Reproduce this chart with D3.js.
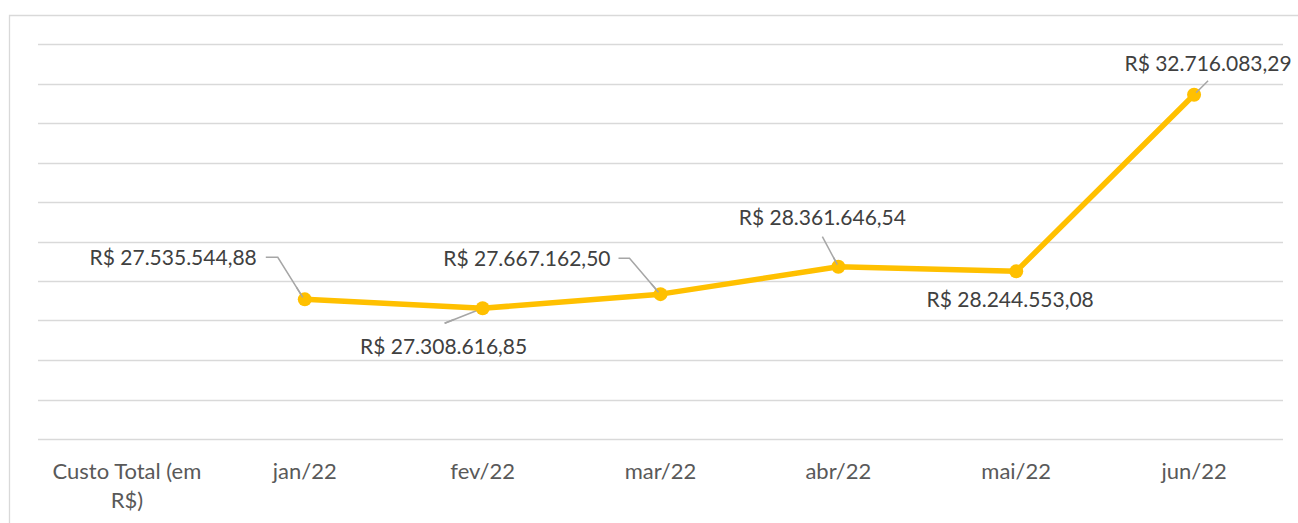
<!DOCTYPE html>
<html>
<head>
<meta charset="utf-8">
<script src="https://cdn.jsdelivr.net/npm/d3@7.9.0/dist/d3.min.js"></script>
<style>
  html, body { margin: 0; padding: 0; background: #fff; }
  svg { display: block; font-family: Lato, "Open Sans", sans-serif; }
</style>
</head>
<body>
<svg id="chart" width="1298" height="523"></svg>
<script>
// === Data ===
const categories = ['Custo Total (em R$)', 'jan/22', 'fev/22', 'mar/22', 'abr/22', 'mai/22', 'jun/22'];
const months = ['jan/22', 'fev/22', 'mar/22', 'abr/22', 'mai/22', 'jun/22'];
const custo = [27535544.88, 27308616.85, 27667162.50, 28361646.54, 28244553.08, 32716083.29];
const yTicks = d3.range(24000000, 34000001, 1000000);

// label placement relative to each point: [dx, dy, anchor, leader points]
const labelPlace = [
  { dx: -48, dy: -42, anchor: 'end',    leader: [[-39, -42], [-27, -42], [-2, -2]] },
  { dx: -39, dy: 38,  anchor: 'middle', leader: [[0, 0], [-38, 15]] },
  { dx: -50, dy: -35, anchor: 'end',    leader: [[-42, -36], [-31, -36], [-2, -2]] },
  { dx: -16, dy: -49, anchor: 'middle', leader: [[-16, -30], [-1, -2]] },
  { dx: -6,  dy: 28,  anchor: 'middle', leader: null },
  { dx: 14,  dy: -31, anchor: 'middle', leader: [[14, -14], [2, -2]] }
];

const fmt = v => 'R$ ' + d3.format(',.2f')(v).replace(/,/g, '#').replace('.', ',').replace(/#/g, '.');

const svg = d3.select('#chart');
const plotL = 38, plotR = 1283, plotT = 44, plotB = 439;

const x = d3.scaleBand().domain(categories).range([plotL, plotR]);
const y = d3.scaleLinear().domain([24000000, 34000000]).range([plotB, plotT]);

// chart border
svg.append('path')
  .attr('d', `M9.5,530 V15.5 H1305`)
  .attr('fill', 'none')
  .attr('stroke', '#d9d9d9')
  .attr('stroke-width', 1.3);

// gridlines
svg.append('g')
  .selectAll('line')
  .data(yTicks)
  .join('line')
  .attr('x1', plotL).attr('x2', plotR)
  .attr('y1', d => Math.round(y(d)) + 0.5)
  .attr('y2', d => Math.round(y(d)) + 0.5)
  .attr('stroke', '#d9d9d9')
  .attr('stroke-width', 1.3);

// x axis labels
const xa = svg.append('g')
  .attr('font-size', 22)
  .attr('fill', '#595959');
xa.append('text')
  .attr('x', x(categories[0]) + x.bandwidth() / 2)
  .attr('y', 479)
  .attr('text-anchor', 'middle')
  .text('Custo Total (em');
xa.append('text')
  .attr('x', x(categories[0]) + x.bandwidth() / 2)
  .attr('y', 508)
  .attr('text-anchor', 'middle')
  .text('R$)');
xa.selectAll('text.m')
  .data(months)
  .join('text')
  .attr('class', 'm')
  .attr('x', d => x(d) + x.bandwidth() / 2)
  .attr('y', 479)
  .attr('text-anchor', 'middle')
  .text(d => d);

const pts = months.map((m, i) => ({
  m, v: custo[i],
  px: x(m) + x.bandwidth() / 2,
  py: y(custo[i])
}));

// leader lines
svg.append('g')
  .selectAll('polyline')
  .data(pts.filter((d, i) => labelPlace[i].leader))
  .join('polyline')
  .attr('points', d => {
    const lp = labelPlace[months.indexOf(d.m)];
    return lp.leader.map(([a, b]) => `${d.px + a},${d.py + b}`).join(' ');
  })
  .attr('fill', 'none')
  .attr('stroke', '#a6a6a6')
  .attr('stroke-width', 1.5);

// line
svg.append('path')
  .datum(pts)
  .attr('d', d3.line().x(d => d.px).y(d => d.py))
  .attr('fill', 'none')
  .attr('stroke', '#ffc000')
  .attr('stroke-width', 5.5)
  .attr('stroke-linejoin', 'round');

// markers
svg.append('g')
  .selectAll('circle')
  .data(pts)
  .join('circle')
  .attr('cx', d => d.px)
  .attr('cy', d => d.py)
  .attr('r', 7)
  .attr('fill', '#ffc000');

// leader tips drawn over markers
svg.append('g')
  .selectAll('line')
  .data(pts.filter((d, i) => labelPlace[i].leader))
  .join('line')
  .each(function (d) {
    const lp = labelPlace[months.indexOf(d.m)].leader;
    const a = lp[lp.length - 1], b = lp[lp.length - 2];
    const t = 0.25;
    d3.select(this)
      .attr('x1', d.px + a[0]).attr('y1', d.py + a[1])
      .attr('x2', d.px + a[0] + (b[0] - a[0]) * t).attr('y2', d.py + a[1] + (b[1] - a[1]) * t);
  })
  .attr('stroke', '#a6a6a6')
  .attr('stroke-width', 1.5);

// data labels
svg.append('g')
  .attr('font-size', 21)
  .attr('fill', '#404040')
  .selectAll('text')
  .data(pts)
  .join('text')
  .attr('x', (d, i) => d.px + labelPlace[i].dx)
  .attr('y', (d, i) => d.py + labelPlace[i].dy)
  .attr('dy', '0.35em')
  .attr('text-anchor', (d, i) => labelPlace[i].anchor)
  .text(d => fmt(d.v));
</script>
</body>
</html>
